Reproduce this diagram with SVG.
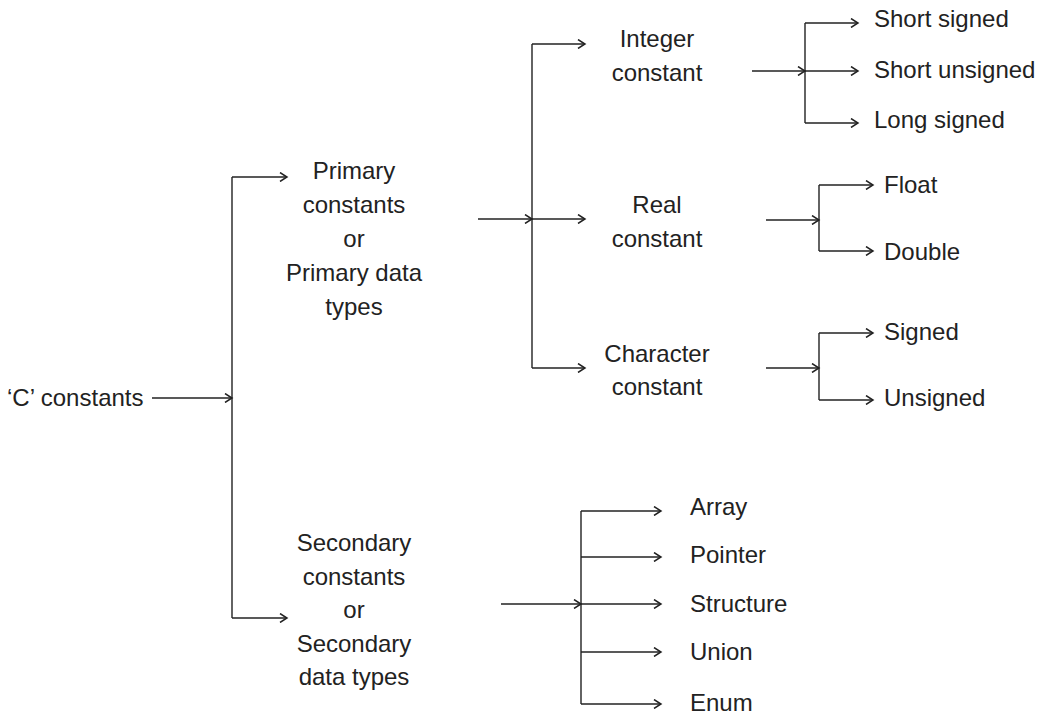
<svg xmlns="http://www.w3.org/2000/svg" width="1044" height="715" viewBox="0 0 1044 715">
<style>
text{font-family:"Liberation Sans",Arial,sans-serif;font-size:24px;fill:#222}
.c{text-anchor:middle}
.ln{stroke:#222;stroke-width:1.4;fill:none}
.ar{stroke:#222;stroke-width:1.4;fill:none;marker-end:url(#ah)}
</style>
<defs>
<marker id="ah" viewBox="0 0 10 10" markerUnits="userSpaceOnUse" markerWidth="10" markerHeight="10" refX="8.5" refY="5" orient="auto">
<path d="M1.5,0.5 L8.5,5 L1.5,9.5" fill="none" stroke="#222" stroke-width="1.5"/>
</marker>
</defs>
<rect width="1044" height="715" fill="#fff"/>
<g id="connectors">
<!-- root -->
<line class="ar" x1="152" y1="398" x2="232" y2="398"/>
<line class="ln" x1="232" y1="177" x2="232" y2="618"/>
<line class="ar" x1="232" y1="177" x2="287" y2="177"/>
<line class="ar" x1="232" y1="618" x2="287" y2="618"/>
<!-- primary -->
<line class="ar" x1="478" y1="219" x2="532" y2="219"/>
<line class="ln" x1="532" y1="44" x2="532" y2="368"/>
<line class="ar" x1="532" y1="44" x2="585" y2="44"/>
<line class="ar" x1="532" y1="219" x2="585" y2="219"/>
<line class="ar" x1="532" y1="368" x2="585" y2="368"/>
<!-- integer -->
<line class="ar" x1="752" y1="71" x2="805" y2="71"/>
<line class="ln" x1="805" y1="23" x2="805" y2="123"/>
<line class="ar" x1="805" y1="23" x2="858" y2="23"/>
<line class="ar" x1="805" y1="71" x2="858" y2="71"/>
<line class="ar" x1="805" y1="123" x2="858" y2="123"/>
<!-- real -->
<line class="ar" x1="766" y1="220" x2="819" y2="220"/>
<line class="ln" x1="819" y1="185" x2="819" y2="251"/>
<line class="ar" x1="819" y1="185" x2="873" y2="185"/>
<line class="ar" x1="819" y1="251" x2="873" y2="251"/>
<!-- character -->
<line class="ar" x1="766" y1="368" x2="819" y2="368"/>
<line class="ln" x1="819" y1="333" x2="819" y2="400"/>
<line class="ar" x1="819" y1="333" x2="873" y2="333"/>
<line class="ar" x1="819" y1="400" x2="873" y2="400"/>
<!-- secondary -->
<line class="ar" x1="501" y1="604" x2="581" y2="604"/>
<line class="ln" x1="581" y1="511" x2="581" y2="704"/>
<line class="ar" x1="581" y1="511" x2="661" y2="511"/>
<line class="ar" x1="581" y1="557" x2="661" y2="557"/>
<line class="ar" x1="581" y1="604" x2="661" y2="604"/>
<line class="ar" x1="581" y1="652" x2="661" y2="652"/>
<line class="ar" x1="581" y1="704" x2="661" y2="704"/>
</g>
<g id="root"><text x="7" y="406">‘C’ constants</text></g>
<g id="primary">
<text class="c" x="354" y="179">Primary</text>
<text class="c" x="354" y="213">constants</text>
<text class="c" x="354" y="247">or</text>
<text class="c" x="354" y="281">Primary data</text>
<text class="c" x="354" y="315">types</text>
</g>
<g id="secondary">
<text class="c" x="354" y="551">Secondary</text>
<text class="c" x="354" y="585">constants</text>
<text class="c" x="354" y="618">or</text>
<text class="c" x="354" y="652">Secondary</text>
<text class="c" x="354" y="685">data types</text>
</g>
<g id="integer">
<text class="c" x="657" y="47">Integer</text>
<text class="c" x="657" y="81">constant</text>
</g>
<g id="real">
<text class="c" x="657" y="213">Real</text>
<text class="c" x="657" y="247">constant</text>
</g>
<g id="character">
<text class="c" x="657" y="362">Character</text>
<text class="c" x="657" y="395">constant</text>
</g>
<g id="short-signed"><text x="874" y="27">Short signed</text></g>
<g id="short-unsigned"><text x="874" y="78">Short unsigned</text></g>
<g id="long-signed"><text x="874" y="128">Long signed</text></g>
<g id="float"><text x="884" y="193">Float</text></g>
<g id="double"><text x="884" y="260">Double</text></g>
<g id="signed"><text x="884" y="340">Signed</text></g>
<g id="unsigned"><text x="884" y="406">Unsigned</text></g>
<g id="array"><text x="690" y="515">Array</text></g>
<g id="pointer"><text x="690" y="563">Pointer</text></g>
<g id="structure"><text x="690" y="612">Structure</text></g>
<g id="union"><text x="690" y="660">Union</text></g>
<g id="enum"><text x="690" y="711">Enum</text></g>
</svg>
